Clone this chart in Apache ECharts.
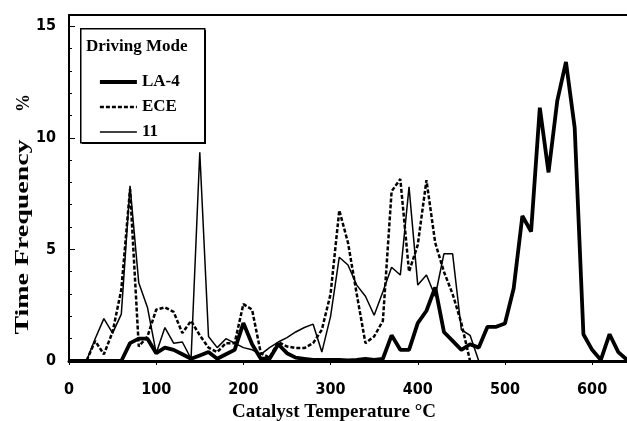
<!DOCTYPE html>
<html>
<head>
<meta charset="utf-8">
<script src="https://cdn.jsdelivr.net/npm/echarts@6/dist/echarts.min.js"></script>
<style>
    html, body { margin: 0; padding: 0; background: #fff; }
    #chart { width: 627px; height: 421px; }
</style>
</head>
<body>
<div id="chart"></div>
<script>
    // temperature bins, every 10 degC
    const temps = [0, 10, 20, 30, 40, 50, 60, 70, 80, 90,
        100, 110, 120, 130, 140, 150, 160, 170, 180, 190,
        200, 210, 220, 230, 240, 250, 260, 270, 280, 290,
        300, 310, 320, 330, 340, 350, 360, 370, 380, 390,
        400, 410, 420, 430, 440, 450, 460, 470, 480, 490,
        500, 510, 520, 530, 540, 550, 560, 570, 580, 590,
        600, 610, 620, 630, 640]

    const la4 = [0, 0, 0, 0, 0, 0, 0, 0.8, 1.0, 1.0,
        0.35, 0.6, 0.5, 0.3, 0.1, 0.25, 0.4, 0.1, 0.3, 0.5,
        1.7, 0.75, 0.1, 0.1, 0.75, 0.35, 0.15, 0.1, 0.05, 0.05,
        0.05, 0.05, 0.03, 0.05, 0.1, 0.05, 0.1, 1.15, 0.5, 0.5,
        1.7, 2.25, 3.3, 1.3, 0.9, 0.5, 0.75, 0.6, 1.53, 1.53,
        1.68, 3.25, 6.5, 5.8, 11.35, 8.45, 11.65, 13.4, 10.45, 1.2,
        0.5, 0.05, 1.2, 0.4, 0.05]

    // ECE ends at 460, mode 11 at 470 (zero afterwards)
    const ece = [0, 0, 0, 0.9, 0.3, 1.3, 3.2, 7.7, 0.65, 1.1,
        2.3, 2.4, 2.2, 1.25, 1.8, 1.15, 0.6, 0.4, 0.8, 0.8,
        2.55, 2.3, 0.35, 0.15, 0.85, 0.65, 0.58, 0.58, 0.8, 1.4,
        3.0, 6.75, 5.3, 3.0, 0.8, 1.1, 1.8, 7.6, 8.15, 4.0,
        5.2, 8.1, 5.3, 4.0, 3.0, 1.7, 0]

    const mode11 = [0, 0, 0, 1.0, 1.9, 1.25, 2.1, 7.85, 3.5, 2.4,
        0.35, 1.5, 0.8, 0.85, 0.1, 9.35, 1.1, 0.6, 1.0, 0.8,
        0.6, 0.5, 0.3, 0.6, 0.85, 1.05, 1.3, 1.5, 1.65, 0.4,
        2.0, 4.65, 4.3, 3.4, 2.9, 2.05, 3.1, 4.2, 3.85, 7.8,
        3.4, 3.85, 2.9, 4.8, 4.8, 1.4, 1.15, 0]

    const xTicks = [0, 100, 200, 300, 400, 500, 600]
    const yTicks = [0, 5, 10, 15]

    function pairs(values) {
        return values.map((v, i) => [temps[i], v])
    }

    const serif = '"Liberation Serif", "DejaVu Serif", serif'
    const tickFont = '"DejaVu Sans Condensed", "DejaVu Sans", sans-serif'

    const widthLA4 = 3.8
    const widthECE = 2.5
    const width11 = 1.5

    function initChart() {
        const chart = echarts.init(document.getElementById('chart'))

        const option = {
            backgroundColor: '#fff',
            animation: false,
            grid: {
                left: 69,
                right: 0,
                top: 15,
                bottom: 60,
                outerBoundsMode: 'none'
            },
            legend: {
                orient: 'vertical',
                left: 93,
                top: 67,
                z: 20,
                itemWidth: 37,
                itemHeight: 14,
                itemGap: 5,
                data: [
                    { name: 'LA-4', lineStyle: { width: widthLA4 } },
                    { name: 'ECE', lineStyle: { width: widthECE } },
                    { name: '11', lineStyle: { width: width11 } }
                ],
                itemStyle: { color: 'transparent', borderColor: 'transparent', borderWidth: 0 },
                textStyle: {
                    fontFamily: serif,
                    fontWeight: 'bold',
                    fontSize: 17,
                    lineHeight: 20,
                    color: '#000'
                }
            },
            graphic: [
                {
                    // offset black block gives the heavier bottom/right edge
                    type: 'rect',
                    left: 82,
                    top: 30,
                    z: 4,
                    shape: { width: 124, height: 114 },
                    style: { fill: '#000' }
                },
                {
                    type: 'rect',
                    left: 80,
                    top: 28,
                    z: 5,
                    shape: { width: 124, height: 114 },
                    style: { fill: '#fff', stroke: '#000', lineWidth: 1.5 }
                },
                {
                    type: 'text',
                    left: 86,
                    top: 38,
                    z: 21,
                    style: {
                        text: 'Driving Mode',
                        fontFamily: serif,
                        fontWeight: 'bold',
                        fontSize: 17,
                        fill: '#000'
                    }
                },
                {
                    // y axis title, stretched along its reading direction like the original
                    type: 'text',
                    x: 23,
                    y: 237,
                    rotation: Math.PI / 2,
                    scaleX: 1.55,
                    z: 10,
                    style: {
                        text: 'Time Frequency',
                        fontFamily: serif,
                        fontWeight: 'bold',
                        fontSize: 18,
                        fill: '#000',
                        align: 'center',
                        verticalAlign: 'middle'
                    }
                },
                {
                    type: 'text',
                    x: 24,
                    y: 103,
                    rotation: Math.PI / 2,
                    z: 10,
                    style: {
                        text: '%',
                        fontFamily: serif,
                        fontWeight: 'bold',
                        fontSize: 18,
                        fill: '#000',
                        align: 'center',
                        verticalAlign: 'middle'
                    }
                }
            ],
            xAxis: [
                {
                    type: 'value',
                    min: 0,
                    max: 640,
                    interval: 100,
                    name: 'Catalyst Temperature °C',
                    nameLocation: 'middle',
                    nameGap: 34,
                    nameTextStyle: {
                        fontFamily: serif,
                        fontWeight: 'bold',
                        fontSize: 19,
                        color: '#000',
                        padding: [0, 28, 0, 0]
                    },
                    axisLine: { lineStyle: { color: '#000', width: 3 } },
                    axisTick: { show: true, length: 4, lineStyle: { color: '#000', width: 1 } },
                    splitLine: { show: false },
                    axisLabel: {
                        margin: 21,
                        fontFamily: tickFont,
                        fontWeight: 'bold',
                        fontSize: 16,
                        color: '#000',
                        formatter: v => (xTicks.indexOf(v) >= 0 ? String(v) : '')
                    }
                },
                {
                    type: 'value',
                    position: 'top',
                    min: 0,
                    max: 640,
                    axisLine: { lineStyle: { color: '#000', width: 2 } },
                    axisTick: { show: false },
                    axisLabel: { show: false },
                    splitLine: { show: false }
                }
            ],
            yAxis: {
                type: 'value',
                min: 0,
                max: 15.5,
                interval: 5,
                axisLine: { show: true, lineStyle: { color: '#000', width: 2 } },
                axisTick: { show: true, inside: true, length: 6, lineStyle: { color: '#000', width: 1 } },
                minorTick: { show: true, splitNumber: 5, length: 3, lineStyle: { color: '#000', width: 1 } },
                splitLine: { show: false },
                axisLabel: {
                    margin: 13,
                    fontFamily: tickFont,
                    fontWeight: 'bold',
                    fontSize: 16,
                    color: '#000',
                    formatter: v => (yTicks.indexOf(v) >= 0 ? String(v) : '')
                }
            },
            series: [
                {
                    name: 'LA-4',
                    type: 'line',
                    symbol: 'none',
                    data: pairs(la4),
                    lineStyle: { color: '#000', width: widthLA4 },
                    itemStyle: { color: '#000' },
                    z: 3
                },
                {
                    name: 'ECE',
                    type: 'line',
                    symbol: 'none',
                    data: pairs(ece),
                    lineStyle: { color: '#000', width: widthECE, type: [4, 2] },
                    itemStyle: { color: '#000' },
                    z: 2
                },
                {
                    name: '11',
                    type: 'line',
                    symbol: 'none',
                    data: pairs(mode11),
                    lineStyle: { color: '#000', width: width11 },
                    itemStyle: { color: '#000' },
                    z: 2
                }
            ]
        }
        chart.setOption(option)
    }

    initChart()
</script>
</body>
</html>
